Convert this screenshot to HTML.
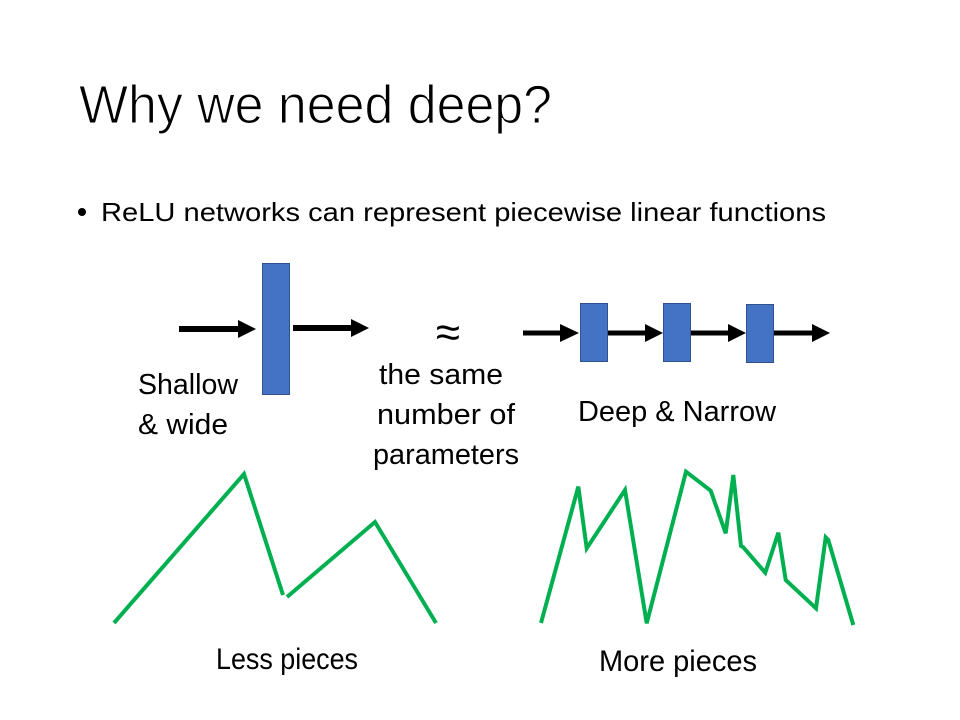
<!DOCTYPE html>
<html>
<head>
<meta charset="utf-8">
<style>
  html, body { margin: 0; padding: 0; background: #ffffff; }
  body { width: 960px; height: 720px; overflow: hidden; }
  svg { display: block; }
  text { font-family: "Liberation Sans", "DejaVu Sans", sans-serif; fill: #000; }
</style>
</head>
<body>
<svg width="960" height="720" viewBox="0 0 960 720" xmlns="http://www.w3.org/2000/svg">
  <rect x="0" y="0" width="960" height="720" fill="#ffffff"/>

  <!-- Title -->
  <text x="79" y="123" font-size="54" textLength="473" lengthAdjust="spacingAndGlyphs" stroke="#ffffff" stroke-width="1.1">Why we need deep?</text>

  <!-- Bullet -->
  <circle cx="82" cy="212" r="4" fill="#000"/>
  <text x="101" y="221" font-size="26" textLength="725" lengthAdjust="spacingAndGlyphs">ReLU networks can represent piecewise linear functions</text>

  <!-- Shallow network -->
  <rect x="179" y="326" width="60" height="6" fill="#000"/>
  <polygon points="238,320 256,329 238,338" fill="#000"/>
  <rect x="262.5" y="263.5" width="27" height="131" fill="#4472C4" stroke="#2F528F" stroke-width="1"/>
  <rect x="293" y="325" width="59" height="6" fill="#000"/>
  <polygon points="351,319 369,328 351,337" fill="#000"/>

  <text x="138" y="394" font-size="29" textLength="100" lengthAdjust="spacingAndGlyphs">Shallow</text>
  <text x="138" y="434" font-size="29" textLength="90" lengthAdjust="spacingAndGlyphs">&amp; wide</text>

  <!-- approx -->
  <text x="448" y="347" font-size="44" text-anchor="middle">≈</text>
  <text x="379" y="384" font-size="29" textLength="124" lengthAdjust="spacingAndGlyphs">the same</text>
  <text x="377" y="424" font-size="29" textLength="138" lengthAdjust="spacingAndGlyphs">number of</text>
  <text x="373" y="464" font-size="29" textLength="146" lengthAdjust="spacingAndGlyphs">parameters</text>

  <!-- Deep network -->
  <rect x="523" y="330.5" width="38" height="5" fill="#000"/>
  <polygon points="560,324 579,333 560,342" fill="#000"/>
  <rect x="580.5" y="303.5" width="27" height="58" fill="#4472C4" stroke="#2F528F" stroke-width="1"/>
  <rect x="608" y="330.5" width="38" height="5" fill="#000"/>
  <polygon points="645,324 663,333 645,342" fill="#000"/>
  <rect x="663.5" y="303.5" width="27" height="58" fill="#4472C4" stroke="#2F528F" stroke-width="1"/>
  <rect x="691" y="330.5" width="38" height="5" fill="#000"/>
  <polygon points="728,324 746,333 728,342" fill="#000"/>
  <rect x="746.5" y="304.5" width="27" height="58" fill="#4472C4" stroke="#2F528F" stroke-width="1"/>
  <rect x="774" y="330.5" width="39" height="5" fill="#000"/>
  <polygon points="812,324 830,333 812,342" fill="#000"/>

  <text x="578" y="421" font-size="29" textLength="198" lengthAdjust="spacingAndGlyphs">Deep &amp; Narrow</text>

  <!-- Less pieces chart -->
  <polyline points="114,623 244,474 283,595" fill="none" stroke="#00B050" stroke-width="4" stroke-linejoin="miter"/>
  <polyline points="287,597 375,522 436,623" fill="none" stroke="#00B050" stroke-width="4" stroke-linejoin="miter"/>

  <!-- More pieces chart -->
  <polyline points="541,623 578.3,486.7 586.7,548.3 625,490 646.7,623.3 686,471.7 710.7,490.7 725.7,533.3 733.3,475 741,546 743.3,547.3 765.3,572.7 778.3,532.7 785.7,580 816,608.3 825.7,537.3 828.3,540 853.3,625" fill="none" stroke="#00B050" stroke-width="4" stroke-linejoin="miter"/>

  <text x="216" y="669" font-size="30" textLength="142" lengthAdjust="spacingAndGlyphs">Less pieces</text>
  <text x="599" y="671" font-size="30" textLength="158" lengthAdjust="spacingAndGlyphs">More pieces</text>
</svg>
</body>
</html>
